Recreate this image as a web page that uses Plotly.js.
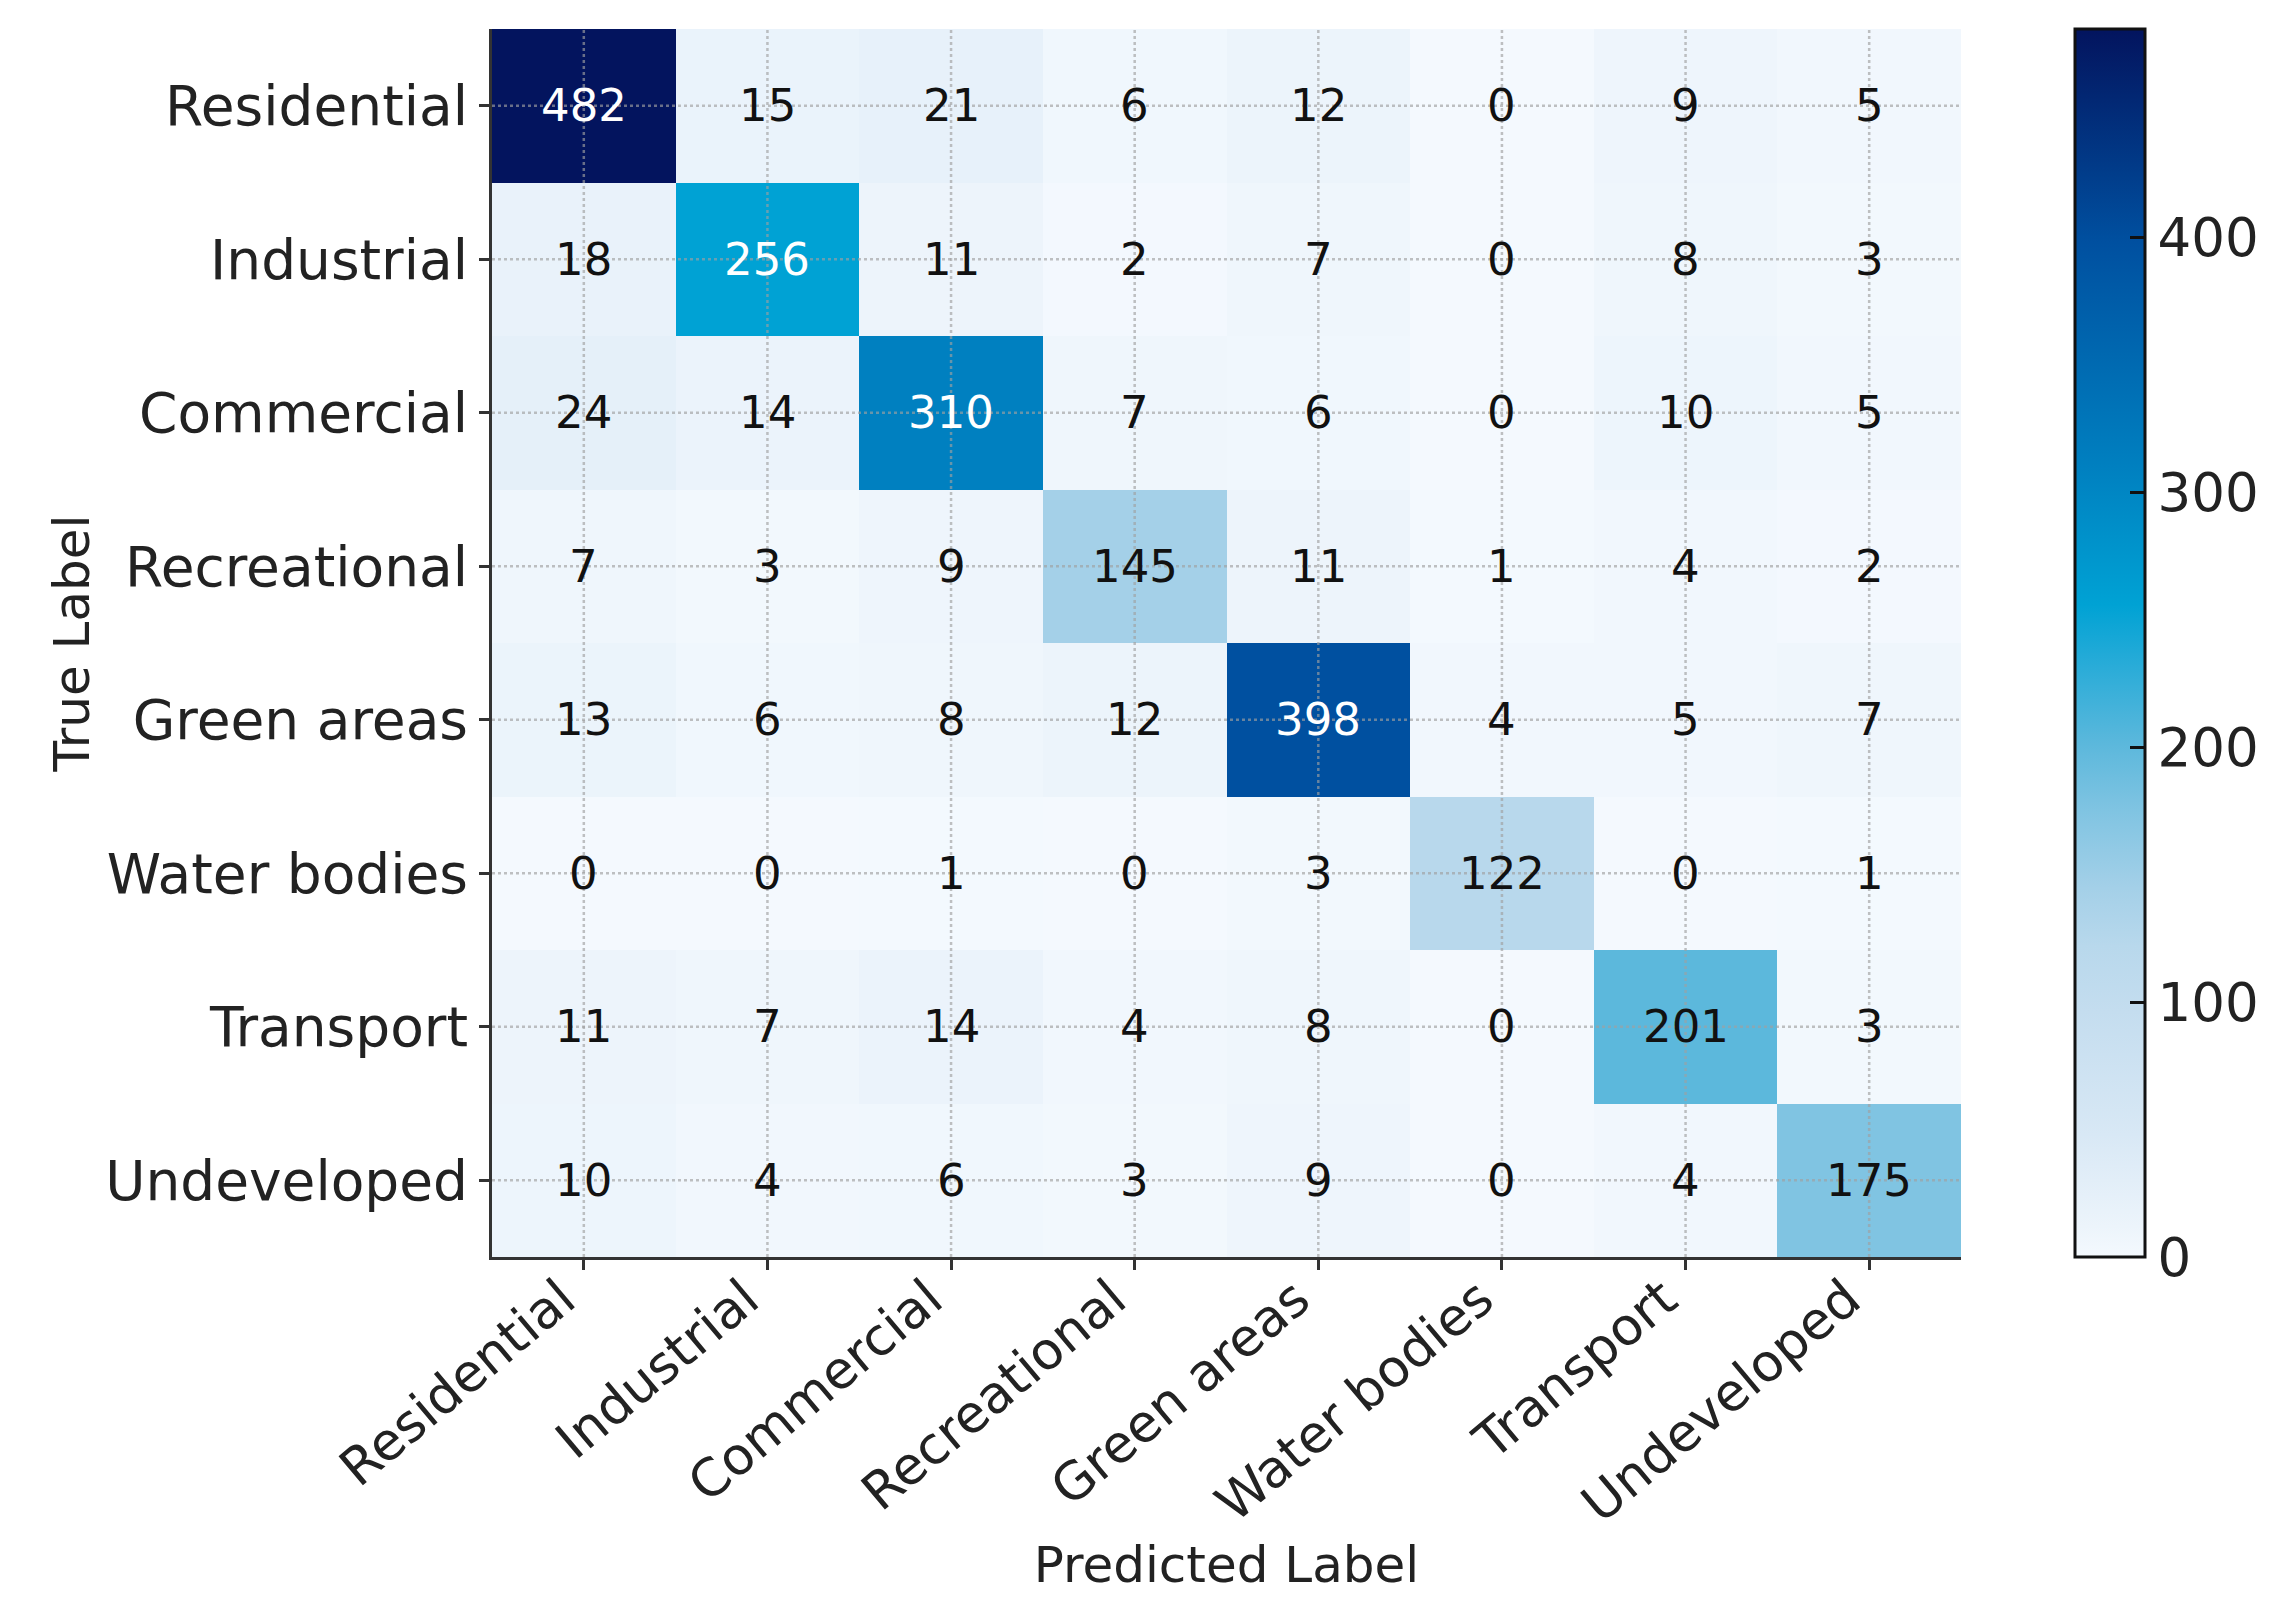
<!DOCTYPE html>
<html>
<head>
<meta charset="utf-8">
<script src="https://cdn.plot.ly/plotly-3.0.1.min.js"></script>
<style>html,body{margin:0;padding:0;background:#fff;}#chart{width:2291px;height:1607px;}</style>
</head>
<body>
<div id="chart"></div>
<script>
// Category labels (true = rows, predicted = columns)
const categories = ["Residential", "Industrial", "Commercial", "Recreational", "Green areas", "Water bodies", "Transport", "Undeveloped"];

// Confusion-matrix rows (true label), columns in the order of `categories`
const rowResidential = [482, 15, 21, 6, 12, 0, 9, 5];
const rowIndustrial  = [18, 256, 11, 2, 7, 0, 8, 3];
const rowCommercial  = [24, 14, 310, 7, 6, 0, 10, 5];
const rowRecreational = [7, 3, 9, 145, 11, 1, 4, 2];
const rowGreenAreas  = [13, 6, 8, 12, 398, 4, 5, 7];
const rowWaterBodies = [0, 0, 1, 0, 3, 122, 0, 1];
const rowTransport   = [11, 7, 14, 4, 8, 0, 201, 3];
const rowUndeveloped = [10, 4, 6, 3, 9, 0, 4, 175];

const colorbarTicks = [0, 100, 200, 300, 400];

const z = [rowResidential, rowIndustrial, rowCommercial, rowRecreational,
           rowGreenAreas, rowWaterBodies, rowTransport, rowUndeveloped];
const zMax = Math.max(...z.map(r => Math.max(...r)));
const thresh = zMax / 2;

const colorscale = [
  [0.0, "#f4f9fe"],
  [0.025, "#ecf4fb"],
  [0.1, "#d8e8f5"],
  [0.2, "#c4ddef"],
  [0.253, "#b8d8ec"],
  [0.3, "#a4d0e8"],
  [0.363, "#80c4e2"],
  [0.417, "#5cb8dc"],
  [0.48, "#2aacd8"],
  [0.531, "#00a2d4"],
  [0.643, "#0080c0"],
  [0.826, "#0050a0"],
  [1.0, "#03145e"]
];

const FONT = "DejaVu Sans, Liberation Sans, sans-serif";

const trace = {
  type: "heatmap",
  x: categories,
  y: categories,
  z: z,
  zmin: 0,
  zmax: zMax,
  colorscale: colorscale,
  xgap: 0, ygap: 0,
  hoverinfo: "skip",
  colorbar: {
    x: 1.0776, xanchor: "left", xpad: 0,
    y: 0, yanchor: "bottom", ypad: 0,
    len: 1.0, lenmode: "fraction",
    thickness: 70,
    outlinewidth: 3, outlinecolor: "#111",
    tickvals: colorbarTicks,
    ticks: "inside", ticklen: 16, tickwidth: 3, tickcolor: "#111",
    ticklabelstandoff: 16,
    tickfont: {family: FONT, size: 53, color: "#222"}
  }
};

const annotations = [];
const shapes = [];
categories.forEach((rowName, i) => {
  categories.forEach((colName, j) => {
    const v = z[i][j];
    annotations.push({
      x: colName, y: rowName, xref: "x", yref: "y",
      text: String(v), showarrow: false,
      font: {family: FONT, size: 45, color: v > thresh ? "#ffffff" : "#111111"}
    });
  });
  // dotted grid lines through category centres, drawn above the cells
  shapes.push({type: "line", layer: "above", xref: "x", yref: "paper",
    x0: i, x1: i, y0: 0, y1: 1,
    line: {color: "rgba(160,160,160,0.65)", width: 2.5, dash: "dot"}});
  shapes.push({type: "line", layer: "above", xref: "paper", yref: "y",
    x0: 0, x1: 1, y0: i, y1: i,
    line: {color: "rgba(160,160,160,0.65)", width: 2.5, dash: "dot"}});
});

const layout = {
  width: 2291, height: 1607,
  margin: {l: 492, r: 330, t: 29, b: 350, autoexpand: false},
  paper_bgcolor: "#ffffff",
  plot_bgcolor: "#ffffff",
  font: {family: FONT, color: "#222"},
  showlegend: false,
  xaxis: {
    type: "category",
    tickangle: -40,
    tickfont: {family: FONT, size: 52, color: "#222"},
    ticks: "outside", ticklen: 10, tickwidth: 3, tickcolor: "#333",
    ticklabelstandoff: -22,
    ticklabelshift: -22,
    showline: true, linecolor: "#333", linewidth: 3, mirror: false,
    showgrid: false, zeroline: false,
    title: {text: "Predicted Label", font: {family: FONT, size: 50, color: "#222"}, standoff: 14}
  },
  yaxis: {
    type: "category",
    autorange: "reversed",
    tickfont: {family: FONT, size: 55, color: "#222"},
    ticks: "outside", ticklen: 10, tickwidth: 3, tickcolor: "#333",
    showline: true, linecolor: "#333", linewidth: 3, mirror: false,
    showgrid: false, zeroline: false,
    title: {text: "True Label", font: {family: FONT, size: 50, color: "#222"}, standoff: 0}
  },
  annotations: annotations,
  shapes: shapes
};

Plotly.newPlot("chart", [trace], layout, {staticPlot: true, displayModeBar: false});
</script>
</body>
</html>
